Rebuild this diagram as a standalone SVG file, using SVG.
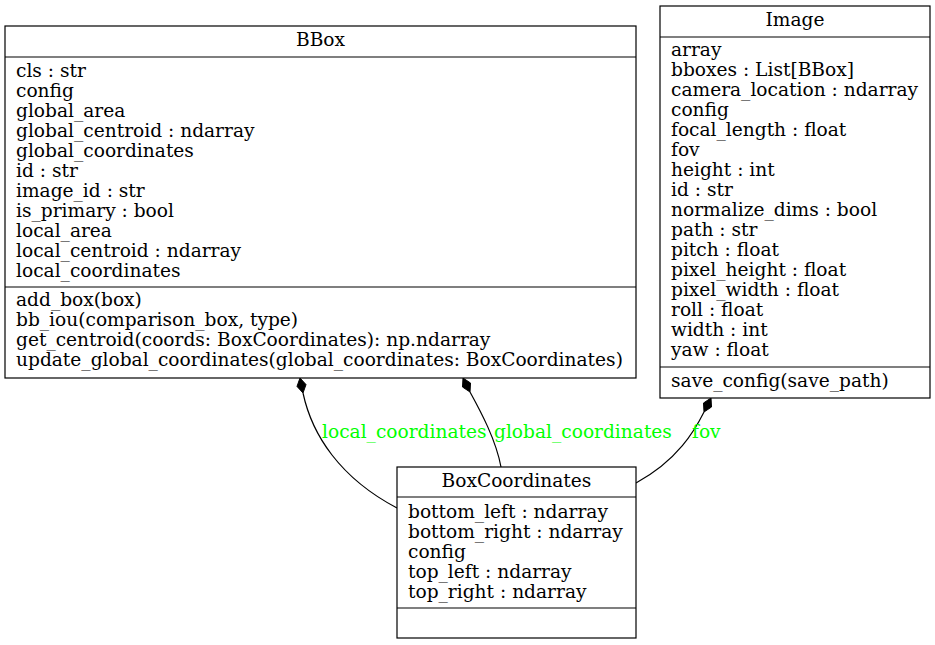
<svg xmlns="http://www.w3.org/2000/svg" width="935" height="645" viewBox="0 0 935 645">
<style>
text { font-family: "DejaVu Serif", "Liberation Serif", serif; font-size: 18.6px; fill: #000; }
.t { text-anchor: middle; }
.lbl { fill: #00ff00; }
.box { fill: #fff; stroke: #000; stroke-width: 1.2; }
.sep { stroke: #000; stroke-width: 1.2; }
.edge { fill: none; stroke: #000; stroke-width: 1.2; }
.dia { fill: #000; stroke: #000; stroke-width: 1; }
</style>
<rect width="935" height="645" fill="#fff"/>
<g id="connectors">
  <path class="edge" d="M303,393 C312,435 340,478 397,508"/>
  <polygon class="dia" points="300,378 297,386.4 303,393 306,384.6"/>
  <path class="edge" d="M470,392 C481,412 496,440 501,467"/>
  <polygon class="dia" points="463,378 462.5,387 470,392 470.5,383"/>
  <path class="edge" d="M704,412 C695,430 678,460 636,483"/>
  <polygon class="dia" points="711,398 703.5,403 704,412 711.5,407"/>
  <text class="lbl" x="322" y="438">local_coordinates</text>
  <text class="lbl" x="494" y="438">global_coordinates</text>
  <text class="lbl" x="692" y="438">fov</text>
</g>
<g id="BBox">
  <rect class="box" x="5" y="26" width="631" height="352"/>
  <line class="sep" x1="5" y1="57" x2="636" y2="57"/>
  <line class="sep" x1="5" y1="287" x2="636" y2="287"/>
  <text class="t" x="320.5" y="46">BBox</text>
  <text x="16" y="77">cls : str</text>
  <text x="16" y="97">config</text>
  <text x="16" y="117">global_area</text>
  <text x="16" y="137">global_centroid : ndarray</text>
  <text x="16" y="157">global_coordinates</text>
  <text x="16" y="177">id : str</text>
  <text x="16" y="197">image_id : str</text>
  <text x="16" y="217">is_primary : bool</text>
  <text x="16" y="237">local_area</text>
  <text x="16" y="257">local_centroid : ndarray</text>
  <text x="16" y="277">local_coordinates</text>
  <text x="16" y="306">add_box(box)</text>
  <text x="16" y="326">bb_iou(comparison_box, type)</text>
  <text x="16" y="346">get_centroid(coords: BoxCoordinates): np.ndarray</text>
  <text x="16" y="366">update_global_coordinates(global_coordinates: BoxCoordinates)</text>
</g>
<g id="Image">
  <rect class="box" x="660" y="6" width="270" height="392"/>
  <line class="sep" x1="660" y1="37" x2="930" y2="37"/>
  <line class="sep" x1="660" y1="367" x2="930" y2="367"/>
  <text class="t" x="795" y="26">Image</text>
  <text x="671" y="56">array</text>
  <text x="671" y="76">bboxes : List[BBox]</text>
  <text x="671" y="96">camera_location : ndarray</text>
  <text x="671" y="116">config</text>
  <text x="671" y="136">focal_length : float</text>
  <text x="671" y="156">fov</text>
  <text x="671" y="176">height : int</text>
  <text x="671" y="196">id : str</text>
  <text x="671" y="216">normalize_dims : bool</text>
  <text x="671" y="236">path : str</text>
  <text x="671" y="256">pitch : float</text>
  <text x="671" y="276">pixel_height : float</text>
  <text x="671" y="296">pixel_width : float</text>
  <text x="671" y="316">roll : float</text>
  <text x="671" y="336">width : int</text>
  <text x="671" y="356">yaw : float</text>
  <text x="671" y="387">save_config(save_path)</text>
</g>
<g id="BoxCoordinates">
  <rect class="box" x="397" y="467" width="239" height="171"/>
  <line class="sep" x1="397" y1="497" x2="636" y2="497"/>
  <line class="sep" x1="397" y1="608" x2="636" y2="608"/>
  <text class="t" x="516.5" y="487">BoxCoordinates</text>
  <text x="408" y="518">bottom_left : ndarray</text>
  <text x="408" y="538">bottom_right : ndarray</text>
  <text x="408" y="558">config</text>
  <text x="408" y="578">top_left : ndarray</text>
  <text x="408" y="598">top_right : ndarray</text>
</g>
</svg>
